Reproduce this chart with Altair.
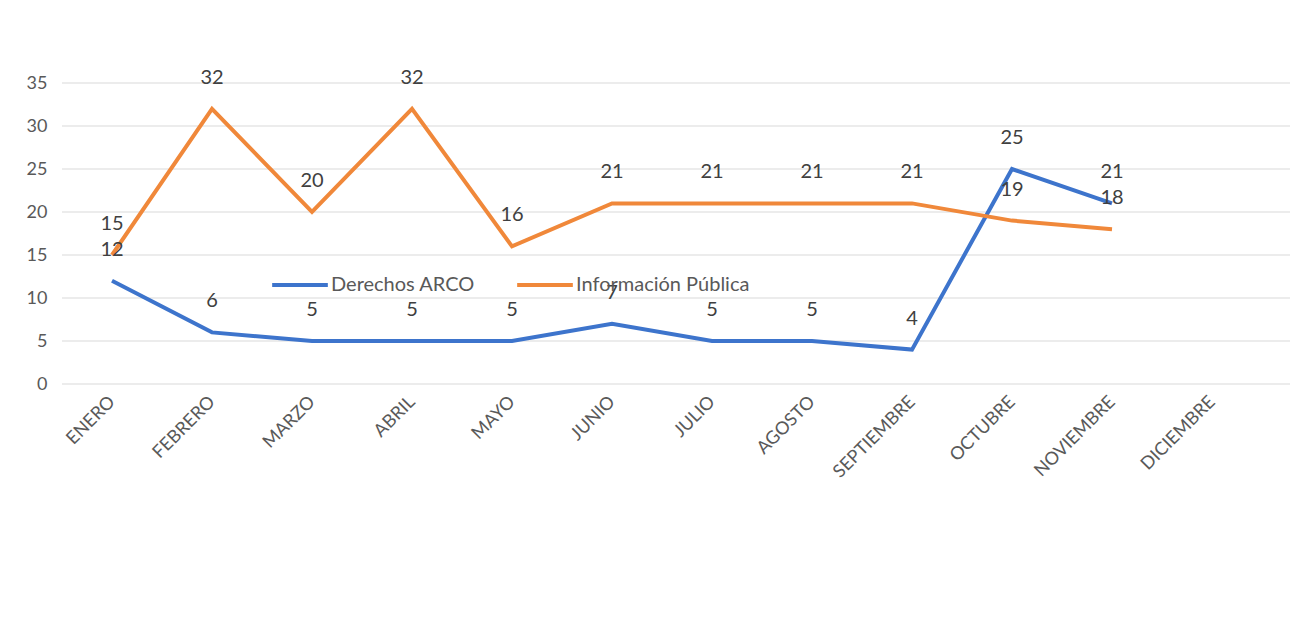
import altair as alt
import pandas as pd

meses = ["ENERO", "FEBRERO", "MARZO", "ABRIL", "MAYO", "JUNIO", "JULIO",
         "AGOSTO", "SEPTIEMBRE", "OCTUBRE", "NOVIEMBRE", "DICIEMBRE"]
series = ["Derechos ARCO", "Información Pública"]
arco = [12, 6, 5, 5, 5, 7, 5, 5, 4, 25, 21]
publica = [15, 32, 20, 32, 16, 21, 21, 21, 21, 19, 18]
marcas_y = [0, 5, 10, 15, 20, 25, 30, 35]
colores = ["#3D74CC", "#F0883A"]

rows = []
for m, v in zip(meses, arco):
    rows.append({"mes": m, "serie": series[0], "valor": v})
for m, v in zip(meses, publica):
    rows.append({"mes": m, "serie": series[1], "valor": v})
df = pd.DataFrame(rows)
grid_df = pd.DataFrame({"valor": marcas_y})

FONT = "Lato"
W = 1228
xscale = alt.Scale(domain=meses, range=[50, 1150], padding=0)
yscale = alt.Scale(domain=[0, 35], nice=False)

x = alt.X("mes:N", sort=meses, scale=xscale,
          axis=alt.Axis(title=None, labelAngle=-45, labelAlign="right",
                        labelBaseline="middle", labelPadding=15,
                        ticks=False, domain=False, labelFontSize=18,
                        labelColor="#595959", labelFont=FONT))
y = alt.Y("valor:Q", scale=yscale,
          axis=alt.Axis(title=None, values=marcas_y, grid=False,
                        domain=False, ticks=False, labelPadding=15,
                        labelFontSize=18, labelColor="#595959", labelFont=FONT))

grid = alt.Chart(grid_df).mark_rule(color="#d9d9d9", strokeWidth=1).encode(
    y=alt.Y("valor:Q", scale=yscale),
    x=alt.value(0), x2=alt.value(W),
)

lines = alt.Chart(df).mark_line(strokeWidth=4).encode(
    x=x, y=y,
    color=alt.Color("serie:N", scale=alt.Scale(domain=series, range=colores),
                    sort=series,
                    legend=alt.Legend(title=None, orient="none", direction="horizontal",
                                      legendX=208, legendY=172, symbolType="stroke",
                                      symbolSize=3100, symbolStrokeWidth=4,
                                      labelFontSize=20, labelColor="#595959",
                                      labelFont=FONT, labelOffset=1, labelLimit=400,
                                      columnPadding=34)),
    detail="serie:N",
)

labels = alt.Chart(df).mark_text(dy=-31, fontSize=20, color="#404040",
                                 font=FONT, baseline="middle").encode(
    x=alt.X("mes:N", sort=meses, scale=xscale),
    y="valor:Q",
    text="valor:Q",
)

chart = (grid + lines + labels).properties(
    width=W, height=301,
    background="white",
    autosize=alt.AutoSizeParams(type="none"),
    padding={"left": 54, "top": 75, "right": 0, "bottom": 240},
).configure_view(strokeWidth=0)

chart.save("out.html", embed_options={"renderer": "svg", "actions": False})
